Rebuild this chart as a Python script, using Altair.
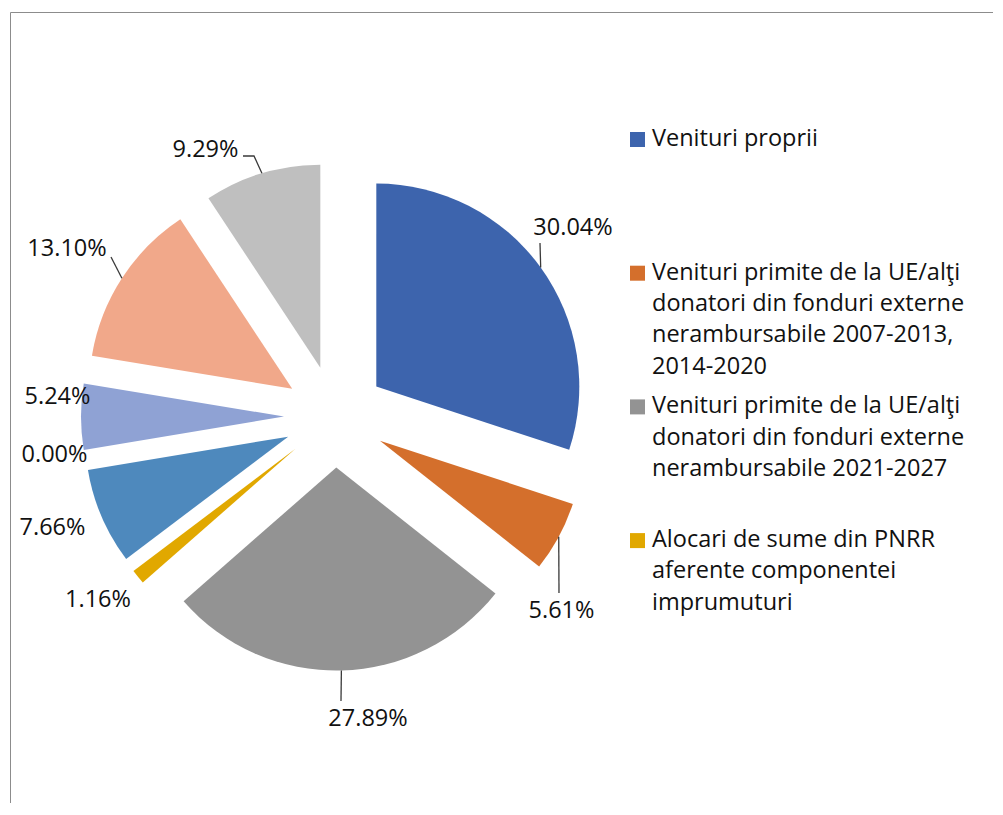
import math
import numpy as np
import pandas as pd
import altair as alt

# ---------------- data ----------------
categories = [
    "Venituri proprii",
    "Venituri primite de la UE/alţi\ndonatori din fonduri externe\nnerambursabile 2007-2013,\n2014-2020",
    "Venituri primite de la UE/alţi\ndonatori din fonduri externe\nnerambursabile 2021-2027",
    "Alocari de sume din PNRR\naferente componentei\nimprumuturi",
    "Categoria 5",
    "Categoria 6",
    "Categoria 7",
    "Categoria 8",
    "Categoria 9",
]
shares = [30.04, 5.61, 27.89, 1.16, 7.66, 0.00, 5.24, 13.10, 9.29]
colors = ["#3D64AD", "#D46F2C", "#939393", "#E1A800", "#4E89BD",
          "#5E8C3E", "#8FA2D4", "#F1A88A", "#BFBFBF"]
legend_shown = 4  # only the first four entries fit in the legend box

# ---------------- layout ----------------
OFF = 8                      # page margin
W, H = 985, 795              # view size
CX, CY = 335 - OFF, 416.5 - OFF
EXPLODE = 51
R = 203
FONT = "Open Sans"
FS = 23.5
TXT = "#111111"

total = float(sum(shares))

# label anchors (image coords, centre of text)
label_pos = [(573, 228), (561.5, 611), (368, 719), (98, 600), (52.5, 528),
             (54.5, 455), (57.5, 397), (67, 249), (205.5, 150)]
# leader line end points (image coords) for slices that have one
leader_ends = {0: [(540, 243)], 1: [(559, 593)], 2: [(341, 701)],
               7: [(111, 257)], 8: [(254, 156), (243, 156)]}

# ---------------- frames ----------------
df = pd.DataFrame({"idx": list(range(len(shares))), "cat": categories,
                   "share": shares})

color_scale = alt.Scale(domain=categories, range=colors)

arcs = (
    alt.Chart(df)
    .transform_window(cum="sum(share)", sort=[alt.SortField("idx")])
    .transform_calculate(start="datum.cum - datum.share")
    .transform_calculate(mid=f"(datum.cum - datum.share/2)/{total}*2*PI")
    .transform_calculate(cx=f"{CX} + {EXPLODE}*sin(datum.mid)")
    .transform_calculate(cy=f"{CY} - {EXPLODE}*cos(datum.mid)")
    .mark_arc(radius=R, strokeWidth=0)
    .encode(
        theta=alt.Theta("start:Q", scale=alt.Scale(domain=[0, total], range=[0, 2 * math.pi])),
        theta2=alt.Theta2("cum:Q"),
        x=alt.X("cx:Q", scale=None, axis=None),
        y=alt.Y("cy:Q", scale=None, axis=None),
        color=alt.Color("cat:N", scale=color_scale, legend=None),
    )
)

# labels
s = np.array(shares)
cum = np.cumsum(s)
mid = (cum - s / 2) / total * 2 * math.pi
arc_x = CX + (EXPLODE + R) * np.sin(mid)
arc_y = CY - (EXPLODE + R) * np.cos(mid)

lab_df = pd.DataFrame({
    "text": [f"{v:.2f}%" for v in shares],
    "lx": [p[0] - OFF for p in label_pos],
    "ly": [p[1] - OFF for p in label_pos],
})
labels = alt.Chart(lab_df).mark_text(
    font=FONT, fontSize=FS, color=TXT, align="center", baseline="middle"
).encode(
    x=alt.X("lx:Q", scale=None, axis=None),
    y=alt.Y("ly:Q", scale=None, axis=None),
    text="text:N",
)

rows = []
for i, ends in leader_ends.items():
    rows.append({"lid": i, "ord": 0, "x": float(arc_x[i]), "y": float(arc_y[i])})
    for k, (ex, ey) in enumerate(ends):
        rows.append({"lid": i, "ord": k + 1, "x": ex - OFF, "y": ey - OFF})
lead_df = pd.DataFrame(rows)
leaders = alt.Chart(lead_df).mark_line(color="#3a3a3a", strokeWidth=1.3).encode(
    x=alt.X("x:Q", scale=None, axis=None),
    y=alt.Y("y:Q", scale=None, axis=None),
    detail="lid:N",
    order="ord:Q",
)

# legend (custom, Excel style)
LEG_X_SYM, LEG_X_TXT = 637.5 - OFF, 652 - OFF
LEG_Y0, LEG_STEP, LINE_H = 139.5 - OFF, 133.7, 31.3
sym_df = pd.DataFrame({
    "cat": categories[:legend_shown],
    "sx": [LEG_X_SYM] * legend_shown,
    "sy": [LEG_Y0 + LEG_STEP * i for i in range(legend_shown)],
})
symbols = alt.Chart(sym_df).mark_square(size=225, opacity=1).encode(
    x=alt.X("sx:Q", scale=None, axis=None),
    y=alt.Y("sy:Q", scale=None, axis=None),
    color=alt.Color("cat:N", scale=color_scale, legend=None),
)
trows = []
for i, name in enumerate(categories[:legend_shown]):
    for j, line in enumerate(name.split("\n")):
        trows.append({"t": line, "tx": LEG_X_TXT,
                      "ty": LEG_Y0 - 0.5 + LEG_STEP * i + LINE_H * j})
leg_txt = alt.Chart(pd.DataFrame(trows)).mark_text(
    font=FONT, fontSize=FS, color=TXT, align="left", baseline="middle"
).encode(
    x=alt.X("tx:Q", scale=None, axis=None),
    y=alt.Y("ty:Q", scale=None, axis=None),
    text="t:N",
)

# chart frame (top and left edges visible)
frame_top = alt.Chart(pd.DataFrame({"a": [0]})).mark_rule(color="#8c8c8c", strokeWidth=1).encode(
    x=alt.value(2.5), x2=alt.value(W), y=alt.value(4.5))
frame_left = alt.Chart(pd.DataFrame({"a": [0]})).mark_rule(color="#8c8c8c", strokeWidth=1).encode(
    x=alt.value(2.5), y=alt.value(4.5), y2=alt.value(H))

chart = (
    alt.layer(frame_top, frame_left, arcs, leaders, labels, symbols, leg_txt)
    .properties(width=W, height=H, padding=0, autosize="none", background="white")
    .configure_view(stroke=None)
)

chart.save("out.html", embed_options={"renderer": "svg", "actions": False})
